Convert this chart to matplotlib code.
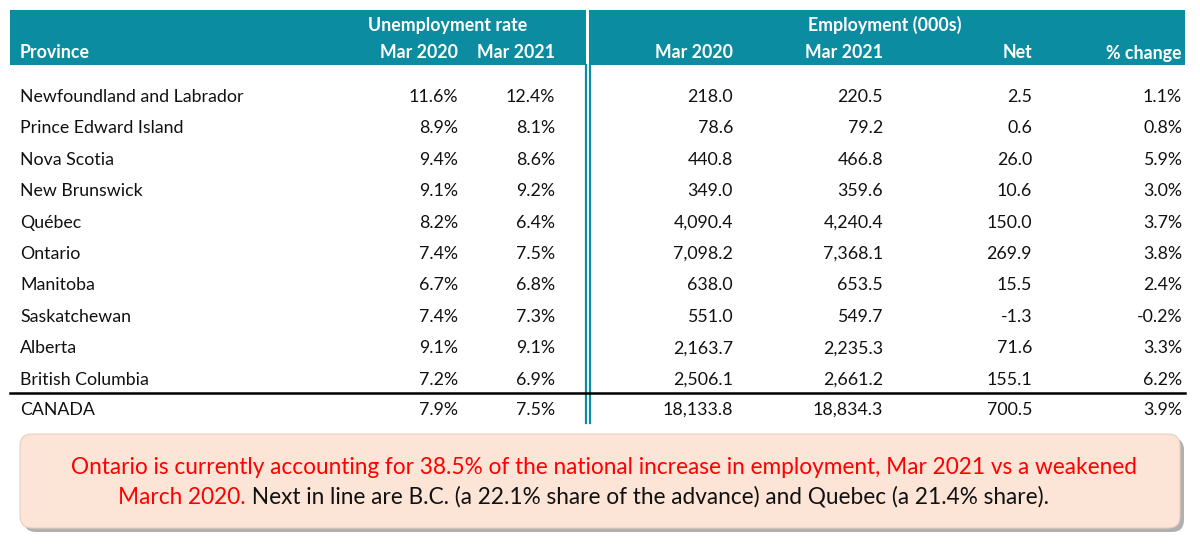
import matplotlib
matplotlib.use("Agg")
import matplotlib.pyplot as plt
from matplotlib.patches import Rectangle, FancyBboxPatch

provinces = ["Newfoundland and Labrador", "Prince Edward Island", "Nova Scotia", "New Brunswick",
             "Québec", "Ontario", "Manitoba", "Saskatchewan", "Alberta", "British Columbia", "CANADA"]
unemp_2020 = [11.6, 8.9, 9.4, 9.1, 8.2, 7.4, 6.7, 7.4, 9.1, 7.2, 7.9]
unemp_2021 = [12.4, 8.1, 8.6, 9.2, 6.4, 7.5, 6.8, 7.3, 9.1, 6.9, 7.5]
emp_2020 = [218.0, 78.6, 440.8, 349.0, 4090.4, 7098.2, 638.0, 551.0, 2163.7, 2506.1, 18133.8]
emp_2021 = [220.5, 79.2, 466.8, 359.6, 4240.4, 7368.1, 653.5, 549.7, 2235.3, 2661.2, 18834.3]
net = [2.5, 0.6, 26.0, 10.6, 150.0, 269.9, 15.5, -1.3, 71.6, 155.1, 700.5]
pct = [1.1, 0.8, 5.9, 3.0, 3.7, 3.8, 2.4, -0.2, 3.3, 6.2, 3.9]

FONT = "Lato"
TEAL = "#0b8ca0"
fig = plt.figure(figsize=(12, 5.46), dpi=100)
ax = fig.add_axes([0, 0, 1, 1])
ax.set_xlim(0, 1200); ax.set_ylim(546, 0); ax.axis("off")

# header band
ax.add_patch(Rectangle((10, 10), 1175, 55, color=TEAL, lw=0))
ax.add_patch(Rectangle((585.5, 10), 3, 55, color="white", lw=0))
hk = dict(color="white", fontweight="bold", fontsize=12.8, family=FONT, va="center")
ax.text(448, 25, "Unemployment rate", ha="center", **hk)
ax.text(885, 25, "Employment (000s)", ha="center", **hk)
ax.text(20, 53, "Province", ha="left", **hk)
cols = [458, 555, 733, 883, 1032, 1182]
for x, h in zip(cols, ["Mar 2020", "Mar 2021", "Mar 2020", "Mar 2021", "Net", "% change"]):
    ax.text(x, 53, h, ha="right", **hk)

# double vertical line
ax.plot([585.5, 585.5], [65, 423], color=TEAL, lw=1.6)
ax.plot([590, 590], [65, 423], color=TEAL, lw=1.6)

bk = dict(color="#111111", fontsize=12.8, family=FONT, va="center")
for i, p in enumerate(provinces):
    y = 97 + 31.4 * i if i < 10 else 410
    ax.text(20, y, p, ha="left", **bk)
    vals = [f"{unemp_2020[i]:.1f}%", f"{unemp_2021[i]:.1f}%", f"{emp_2020[i]:,.1f}",
            f"{emp_2021[i]:,.1f}", f"{net[i]:,.1f}", f"{pct[i]:.1f}%"]
    for x, v in zip(cols, vals):
        ax.text(x, y, v, ha="right", **bk)
ax.plot([10, 1185], [393, 393], color="black", lw=1.8)

# callout
ax.add_patch(FancyBboxPatch((24, 438), 1160, 94, boxstyle="round,pad=0,rounding_size=12",
                            fc="#b0b0b0", ec="none"))
ax.add_patch(FancyBboxPatch((20, 434), 1160, 94, boxstyle="round,pad=0,rounding_size=12",
                            fc="#fce4d6", ec="#e8cfc0", lw=0.8))
FS = 16.3
ax.text(604, 467, "Ontario is currently accounting for 38.5% of the national increase in employment, Mar 2021 vs a weakened",
        color="#ff0000", fontsize=FS, family=FONT, va="center", ha="center")
t1 = ax.text(118, 497, "March 2020.", color="#ff0000", fontsize=FS, family=FONT, va="center", ha="left")
ax.annotate(" Next in line are B.C. (a 22.1% share of the advance) and Quebec (a 21.4% share).",
            xy=(1, 0.5), xycoords=t1, va="center", ha="left",
            color="#111111", fontsize=FS, family=FONT)
fig.savefig("out.png", dpi=100, facecolor="white")
